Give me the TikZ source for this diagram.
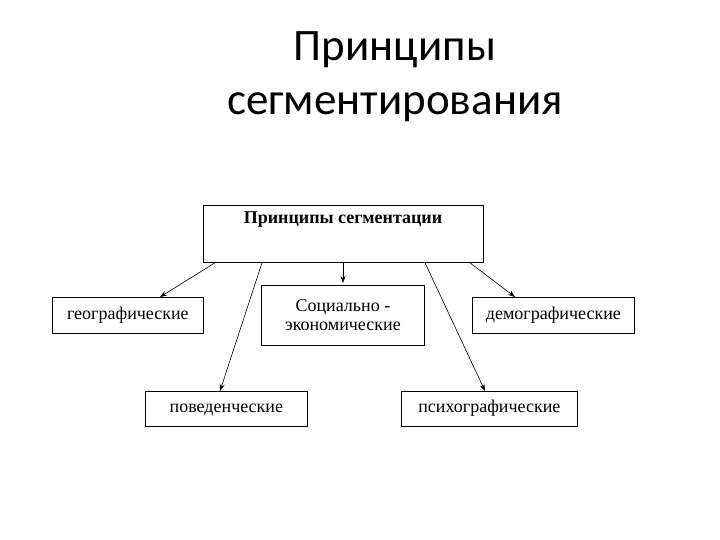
\documentclass[tikz,border=0pt]{standalone}
\usepackage{fontspec}
\setmainfont{Liberation Serif}
\newfontfamily\titlefont{Carlito}
\usetikzlibrary{calc,arrows.meta}
\begin{document}
\begin{tikzpicture}[x=1pt,y=-1pt,
  box/.style={draw,line width=0.8pt,inner sep=0pt,align=center,font=\fontsize{18}{19}\selectfont},
  arr/.style={-{Stealth[length=7pt,width=5pt]},line width=0.6pt}]
\useasboundingbox[fill=white] (0,0) rectangle (720,540);
\node[font=\titlefont\fontsize{45}{54}\selectfont,align=center] (title) at (395,77) {Принципы\\сегментирования};
\node[box,minimum width=280,minimum height=57,anchor=north west] (top) at (203,205) {};
\node[font=\bfseries\fontsize{18}{19}\selectfont] (toplbl) at (343,220) {Принципы сегментации};
\node[box,minimum width=151,minimum height=36,anchor=north west] (geo) at (52,297) {географические};
\node[box,minimum width=163,minimum height=60,anchor=north west] (soc) at (261,285) {Социально -\\экономические};
\node[box,minimum width=162,minimum height=36,anchor=north west] (dem) at (472,297) {демографические};
\node[box,minimum width=162,minimum height=35,anchor=north west] (pov) at (145,391) {поведенческие\strut};
\node[box,minimum width=176,minimum height=35,anchor=north west] (psy) at (401,391) {психографические\strut};
\draw[arr] ($(top.south west)+(12,0)$) -- ($(geo.north west)+(108,0)$);
\draw[arr] ($(top.south west)+(140,0)$) -- ($(soc.north west)+(82,-2)$);
\draw[arr] ($(top.south west)+(267,0)$) -- ($(dem.north west)+(43,0)$);
\draw[arr] ($(top.south west)+(59,0)$) -- ($(pov.north west)+(75,0)$);
\draw[arr] ($(top.south west)+(222,0)$) -- ($(psy.north west)+(84,0)$);
\end{tikzpicture}
\end{document}
